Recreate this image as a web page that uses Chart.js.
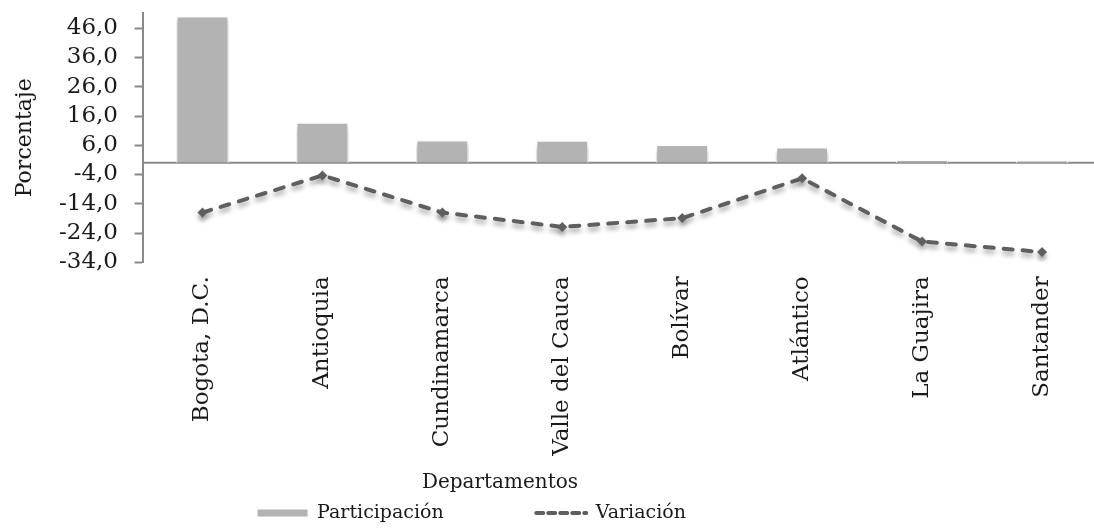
<!DOCTYPE html>
<html>
<head>
<meta charset="utf-8">
<script src="https://cdn.jsdelivr.net/npm/chart.js@4/dist/chart.umd.min.js"></script>
<style>
  html, body { margin: 0; padding: 0; background: #fff; overflow: hidden; }
  /* the plot runs a little past the right edge of the picture */
  #wrap { position: absolute; left: 0; top: 0; width: 1107px; height: 529px; }
</style>
</head>
<body>
<div id="wrap"><canvas id="mycanvas"></canvas></div>
<script>
var departamentos = ['Bogota, D.C.', 'Antioquia', 'Cundinamarca', 'Valle del Cauca',
                     'Bolívar', 'Atlántico', 'La Guajira', 'Santander'];
var participacion = [50.2, 13.9, 7.8, 7.7, 6.3, 5.4, 1.1, 0.9];
var variacion = [-17.0, -4.3, -17.0, -21.9, -18.9, -5.3, -26.9, -30.5];
var yTicks = [-34, -24, -14, -4, 6, 16, 26, 36, 46];

var serif = '"DejaVu Serif"';
var texto = '#1a1a1a';

// zero line across the plot, like the category axis in the original
var zeroLine = {
    id: 'zeroLine',
    beforeDatasetsDraw: function (chart) {
        var ctx = chart.ctx, area = chart.chartArea;
        var y = chart.scales.y.getPixelForValue(0);
        ctx.save();
        ctx.strokeStyle = '#8a8a8a';
        ctx.lineWidth = 2;
        ctx.beginPath();
        ctx.moveTo(area.left, y);
        ctx.lineTo(area.right, y);
        ctx.stroke();
        ctx.restore();
    }
};

// soft drop shadow under bars and line
var sombra = {
    id: 'sombra',
    beforeDatasetDraw: function (chart) {
        var ctx = chart.ctx;
        ctx.save();
        ctx.shadowColor = 'rgba(0,0,0,0.35)';
        ctx.shadowBlur = 5;
        ctx.shadowOffsetX = 0;
        ctx.shadowOffsetY = 4;
    },
    afterDatasetDraw: function (chart) {
        chart.ctx.restore();
    }
};

// axis title and legend sit left of centre in the original
var pieDeGrafico = {
    id: 'pieDeGrafico',
    afterLayout: function (chart) {
        var t = chart.titleBlock, l = chart.legend;
        t.left = 0; t.right = 1000; t.width = 1000;
        t.top = 471; t.bottom = t.top + t.height;
        l.left = 0; l.right = 943.5; l.width = 943.5;
        l.top = 411; l.bottom = 529;
    }
};

var chartdata = {
    labels: departamentos,
    datasets: [
    {
        type: 'line',
        label: 'Variación',
        data: variacion,
        borderColor: '#5f5f5f',
        backgroundColor: '#5f5f5f',
        borderWidth: 4,
        borderDash: [9, 10],
        borderCapStyle: 'round',
        pointStyle: 'rectRot',
        pointRadius: 5,
        pointBorderWidth: 0,
        pointBackgroundColor: '#5f5f5f',
        tension: 0,
        order: 1
    },
    {
        type: 'bar',
        label: 'Participación',
        data: participacion,
        backgroundColor: '#b3b3b3',
        borderColor: '#ffffff',
        borderWidth: 1.5,
        barPercentage: 0.44,
        categoryPercentage: 1,
        order: 2
    }
    ]
};

var ctx = document.getElementById('mycanvas');

var grafico = new Chart(ctx, {
    data: chartdata,
    plugins: [zeroLine, sombra, pieDeGrafico],
    options: {
        responsive: true,
        maintainAspectRatio: false,
        animation: false,
        layout: { padding: { top: 13.3, right: 0, left: 0, bottom: 0 } },
        plugins: {
            tooltip: { enabled: false },
            title: {
                display: true,
                position: 'bottom',
                text: 'Departamentos',
                color: texto,
                font: { family: serif, size: 20, weight: 'normal' },
                padding: 0
            },
            legend: {
                position: 'bottom',
                maxHeight: 1,
                labels: {
                    color: texto,
                    font: { family: serif, size: 19 },
                    usePointStyle: true,
                    pointStyleWidth: 50,
                    boxWidth: 50,
                    boxHeight: 7,
                    padding: 92.5,
                    generateLabels: function (chart) {
                        var items = Chart.defaults.plugins.legend.labels.generateLabels(chart);
                        items.forEach(function (it) {
                            var ds = chart.data.datasets[it.datasetIndex];
                            if (ds.type === 'line') {
                                it.pointStyle = 'line';
                                it.strokeStyle = ds.borderColor;
                                it.lineWidth = ds.borderWidth;
                                it.lineDash = [7, 5];
                                it.lineCap = 'round';
                            } else {
                                it.pointStyle = 'rect';
                                it.lineWidth = 0;
                            }
                        });
                        // bars first, as in the original
                        return items.reverse();
                    }
                }
            }
        },
        scales: {
            x: {
                grid: { display: false },
                border: { display: false },
                ticks: {
                    color: texto,
                    font: { family: serif, size: 23 },
                    minRotation: 90,
                    maxRotation: 90,
                    padding: 6,
                    autoSkip: false
                },
                afterFit: function (scale) {
                    scale.height = 241.7;
                    scale.paddingLeft = 0;
                    scale.paddingRight = 0;
                }
            },
            y: {
                min: -34,
                max: 51.1,
                afterBuildTicks: function (scale) {
                    scale.ticks = yTicks.map(function (v) { return { value: v }; });
                },
                grid: {
                    drawOnChartArea: false,
                    drawTicks: true,
                    tickLength: 8,
                    tickColor: '#8a8a8a',
                    tickWidth: 2
                },
                border: { color: '#8a8a8a', width: 2 },
                ticks: {
                    color: texto,
                    font: { family: serif, size: 23 },
                    padding: 16.5,
                    callback: function (v) { return v.toFixed(1).replace('.', ','); }
                },
                title: {
                    display: true,
                    text: 'Porcentaje',
                    color: texto,
                    font: { family: serif, size: 22 },
                    padding: { top: 12, bottom: 0 }
                },
                afterFit: function (scale) {
                    scale.width = 142.5;
                    scale.paddingTop = 0;
                    scale.paddingBottom = 0;
                }
            }
        }
    }
});
</script>
</body>
</html>
